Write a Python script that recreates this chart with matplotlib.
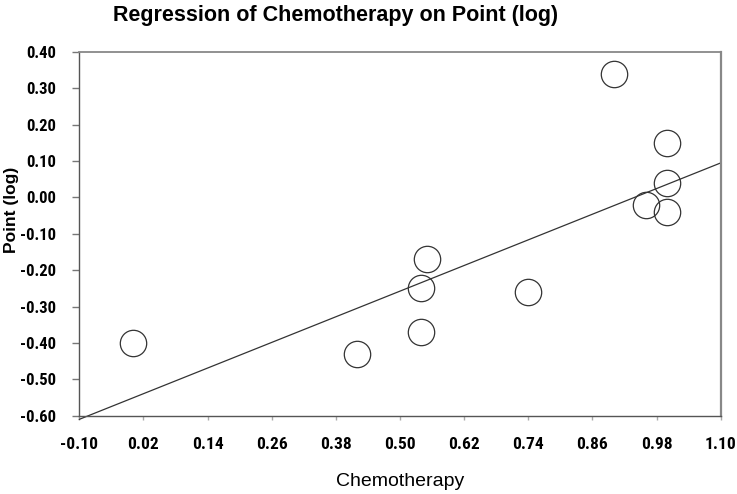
import os
import matplotlib
matplotlib.use('Agg')
import matplotlib.pyplot as plt
from matplotlib import font_manager

# data
chemo = [0.00, 0.42, 0.54, 0.54, 0.55, 0.74, 0.90, 0.96, 1.00, 1.00, 1.00]
point_log = [-0.40, -0.43, -0.37, -0.25, -0.17, -0.26, 0.34, -0.02, -0.04, 0.04, 0.15]

# regression line end points
fit_x = [-0.10, 1.10]
fit_y = [-0.61, 0.095]

x_ticks = [-0.10, 0.02, 0.14, 0.26, 0.38, 0.50, 0.62, 0.74, 0.86, 0.98, 1.10]
y_ticks = [-0.60, -0.50, -0.40, -0.30, -0.20, -0.10, 0.00, 0.10, 0.20, 0.30, 0.40]


def find_narrow_bold():
    # look for a condensed bold sans face, else None
    files = [f.fname for f in font_manager.fontManager.ttflist]
    for key in ['LiberationSansNarrow-Bold.', 'ArialNarrow', 'Arial Narrow Bold',
                'RobotoCondensed-Bold.', 'OpenSans_Condensed-Bold.',
                'OpenSansCondensed-Bold.', 'OpenSans-CondBold']:
        for fn in files:
            if key in os.path.basename(fn):
                return fn
    return None


narrow_file = find_narrow_bold()
if narrow_file is not None:
    xtick_fp = font_manager.FontProperties(fname=narrow_file, size=12.5)
    ytick_fp = font_manager.FontProperties(fname=narrow_file, size=12)
else:
    xtick_fp = font_manager.FontProperties(family='Liberation Sans',
                                           weight='bold', size=11)
    ytick_fp = font_manager.FontProperties(family='Liberation Sans',
                                           weight='bold', size=10.5)

W, H = 737, 494
fig = plt.figure(figsize=(W / 100, H / 100), dpi=100)
ax = fig.add_axes([79.3 / W, 1 - 415.7 / H, 641.4 / W, 363.7 / H])

ax.plot(fit_x, fit_y, color='#333333', lw=0.9, clip_on=False, zorder=2)
ax.plot(chemo, point_log, 'o', ms=19, mfc='none', mec='#333333', mew=0.9,
        zorder=3)

ax.set_xlim(-0.10, 1.10)
ax.set_ylim(-0.60, 0.40)
ax.set_xticks(x_ticks)
ax.set_xticklabels(['%.2f' % v for v in x_ticks])
ax.set_yticks(y_ticks)
ax.set_yticklabels(['%.2f' % v for v in y_ticks])

for lab in ax.get_xticklabels():
    lab.set_fontproperties(xtick_fp)
for lab in ax.get_yticklabels():
    lab.set_fontproperties(ytick_fp)

ax.tick_params(axis='x', direction='out', length=3, width=1, color='#aaaaaa',
               pad=12)
ax.tick_params(axis='y', direction='out', length=5, width=1, color='#777777',
               pad=12)

ax.spines['left'].set_color('#555555')
ax.spines['bottom'].set_color('#555555')
ax.spines['left'].set_linewidth(1)
ax.spines['bottom'].set_linewidth(1)
ax.spines['top'].set_color('#888888')
ax.spines['right'].set_color('#888888')
ax.spines['top'].set_linewidth(1.3)
ax.spines['right'].set_linewidth(1.6)

fig.text(113 / W, 1 - 15 / H, 'Regression of Chemotherapy on Point (log)',
         family='Liberation Sans', fontweight='bold', fontsize=15.5,
         ha='left', va='center')
fig.text(400 / W, 1 - 481 / H, 'Chemotherapy', family='Liberation Sans',
         fontsize=14, ha='center', va='center')
fig.text(12 / W, 1 - 210 / H, 'Point (log)', family='Liberation Sans',
         fontweight='bold', fontsize=12.5, rotation=90, ha='center', va='center')

fig.savefig('out.png', dpi=100)
